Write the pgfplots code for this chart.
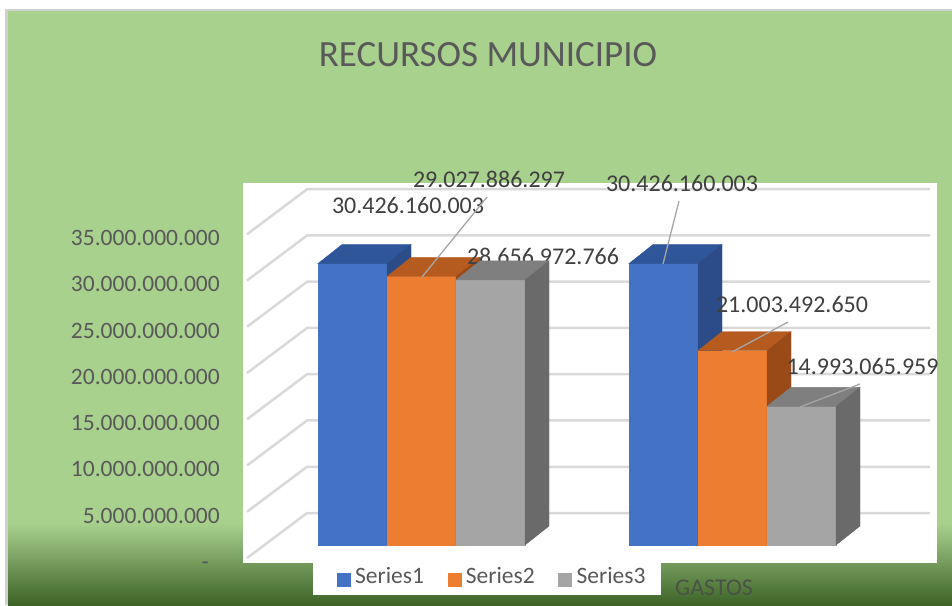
\documentclass[border=0pt]{standalone}
\usepackage{pgfplots}
\pgfplotsset{compat=1.18}
\usepackage{fontspec}
\setmainfont{Carlito}

\definecolor{bgl}{HTML}{A9D18E}
\definecolor{bgm}{HTML}{567F3B}
\definecolor{bgd}{HTML}{3D6328}
\definecolor{frame}{HTML}{D0D0D0}
\definecolor{gridc}{HTML}{D9D9D9}
\definecolor{titlec}{HTML}{595959}
\definecolor{labc}{HTML}{404040}
\definecolor{leadc}{HTML}{A6A6A6}
\definecolor{catc}{HTML}{4A5444}
\definecolor{cA}{HTML}{4472C4}
\definecolor{cAt}{HTML}{30569A}
\definecolor{cAs}{HTML}{2B4C88}
\definecolor{cB}{HTML}{ED7D31}
\definecolor{cBt}{HTML}{B65B20}
\definecolor{cBs}{HTML}{9A4A17}
\definecolor{cC}{HTML}{A5A5A5}
\definecolor{cCt}{HTML}{7F7F7F}
\definecolor{cCs}{HTML}{6A6A6A}

\pgfdeclareplotmark{empty3d}{}

\pgfplotsset{
  % 3D box of a bar: #1 front, #2 top, #3 side colour, #4 bar shift (pt),
  % #5..#8 leader line start/end relative to the front top centre (pt)
  box3d/.style n args={8}{
    only marks, mark=empty3d, scatter, point meta=y, forget plot,
    visualization depends on={rawy\as\vv},
    scatter/@pre marker code/.code={
      \fill[#1] (#4pt-34.5pt,0pt) rectangle (#4pt+34.5pt,-\vv*9.25pt);
      \fill[#2] (#4pt-34.5pt,0pt) -- (#4pt+34.5pt,0pt) -- (#4pt+58.5pt,19pt) -- (#4pt-10.5pt,19pt) -- cycle;
      \fill[#3] (#4pt+34.5pt,0pt) -- (#4pt+58.5pt,19pt) -- (#4pt+58.5pt,19pt-\vv*9.25pt) -- (#4pt+34.5pt,-\vv*9.25pt) -- cycle;
      \draw[leadc, line width=1.3pt] (#4pt+#5pt,#6pt) -- (#4pt+#7pt,#8pt);
    },
    scatter/@post marker code/.code={},
  },
  % front face of a bar with its value label: #1 colour, #2 bar shift, #3 #4 label offset
  front/.style n args={4}{
    ybar, bar width=69pt, bar shift=#2pt, fill=#1, draw=none, forget plot,
    point meta=explicit symbolic, nodes near coords,
    every node near coord/.append style={anchor=center, inner sep=0pt, xshift=#2pt+#3pt, yshift=#4pt,
      font=\fontsize{24}{28}\selectfont, text=labc},
  },
  legsq/.style={legend image code/.code={\path (-23.5pt,0pt) (18pt,0pt); \fill[#1] (0pt,-6.5pt) rectangle (13pt,6.5pt);}},
}

\begin{document}
\begin{tikzpicture}
\fill[white] (0pt,0pt) rectangle (952pt,605pt);
\fill[frame] (5pt,0pt) rectangle (952pt,596pt);
\fill[bgl] (8pt,82pt) rectangle (952pt,594pt);
\shade[top color=bgl, middle color=bgm, bottom color=bgd] (8pt,0pt) rectangle (952pt,82.5pt);
\node[font=\fontsize{37}{41}\selectfont, text=titlec, inner sep=0pt] at (488pt,550.5pt) {RECURSOS MUNICIPIO};
\begin{axis}[
  at={(243pt,42pt)}, anchor=south west,
  x=311pt, y=9.25pt,
  xmin=-0.574, xmax=1.6576, ymin=-1.946, ymax=39.135,
  clip=false,
  axis line style={draw=none}, major tick length=0pt, tick style={draw=none},
  axis background/.style={fill=white},
  xtick={0,1}, xticklabels={INGRESOS,GASTOS},
  xticklabel style={font=\fontsize{24}{28}\selectfont, text=catc, inner sep=0pt, anchor=north,
    text height=15.5pt, text depth=0pt, xshift=-18.5pt, yshift=-17pt},
  ytick={0,5,10,15,20,25,30,35},
  yticklabels={{-\kern11pt},5.000.000.000,10.000.000.000,15.000.000.000,20.000.000.000,25.000.000.000,30.000.000.000,35.000.000.000},
  yticklabel style={font=\fontsize{23.5}{28}\selectfont, text=titlec, inner sep=0pt, anchor=east,
    text height=15pt, text depth=0pt, xshift=-23pt, yshift=-17pt},
  legend columns=3,
  legend style={at={(0.1009,0)}, anchor=north west, draw=none, fill=white,
    font=\fontsize{23.5}{27}\selectfont, text=titlec,
    inner xsep=0pt, inner ysep=2pt,
    nodes={inner xsep=0pt, inner ysep=2pt, text depth=8pt},
    /tikz/every even column/.append style={column sep=0pt},
    /tikz/every odd column/.append style={column sep=0pt}},
]
\pgfplotsinvokeforeach{0,5,10,15,20,25,30,35}{
  \draw[gridc, line width=2.5pt] (axis cs:-0.5611,#1) ++(0pt,-13pt) -- ++(60pt,45pt) -- ++(623pt,0pt);
}
% Series1 (values in thousands of millions)
\addplot[front={cA}{-69}{55.5}{57.6}] coordinates {(0,30.426160003) [30.426.160.003]};
\addplot[box3d={cA}{cAt}{cAs}{-69}{0}{0}{0}{0}] coordinates {(0,30.426160003)};
\addplot[front={cA}{-69}{18.5}{80.1}] coordinates {(1,30.426160003) [30.426.160.003]};
\addplot[box3d={cA}{cAt}{cAs}{-69}{-0.5}{-0.4}{15.5}{62.6}] coordinates {(1,30.426160003)};
% Series2
\addplot[front={cB}{0}{67.5}{97.5}] coordinates {(0,29.027886297) [29.027.886.297]};
\addplot[box3d={cB}{cBt}{cBs}{0}{0.5}{-0.5}{65.5}{79.5}] coordinates {(0,29.027886297)};
\addplot[front={cB}{0}{59.5}{46.7}] coordinates {(1,21.003492650) [21.003.492.650]};
\addplot[box3d={cB}{cBt}{cBs}{0}{-0.5}{-1.3}{55.5}{28.7}] coordinates {(1,21.003492650)};
% Series3
\addplot[front={cC}{69}{52.5}{23.4}] coordinates {(0,28.656972766) [28.656.972.766]};
\addplot[box3d={cC}{cCt}{cCs}{69}{0}{0}{0}{0}] coordinates {(0,28.656972766)};
\addplot[front={cC}{69}{61}{39.8}] coordinates {(1,14.993065959) [14.993.065.959]};
\addplot[box3d={cC}{cCt}{cCs}{69}{-1.5}{-0.7}{58.5}{22.3}] coordinates {(1,14.993065959)};
\addlegendimage{legsq=cA}
\addlegendentry{Series1}
\addlegendimage{legsq=cB}
\addlegendentry{Series2}
\addlegendimage{legsq=cC}
\addlegendentry{Series3\kern15pt}
\end{axis}
\pgfresetboundingbox
\useasboundingbox (0pt,0pt) rectangle (952pt,605pt);
\end{tikzpicture}
\end{document}
